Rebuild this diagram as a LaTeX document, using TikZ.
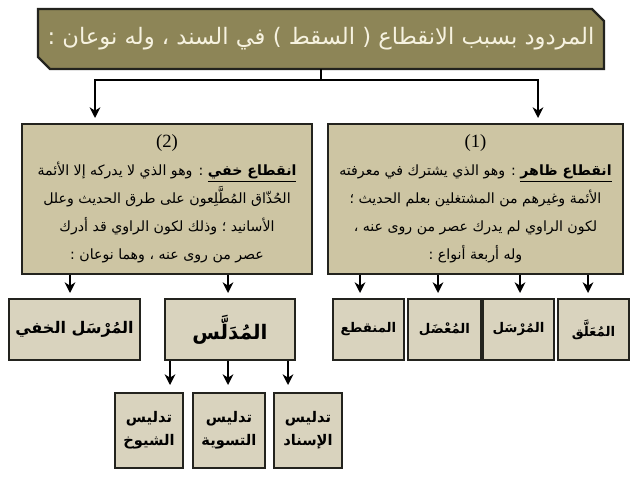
\documentclass[tikz,border=0pt]{standalone}
\usepackage{fontspec}
\setmainfont{Liberation Serif}
\newfontfamily\arabicfont[Script=Arabic]{DejaVu Sans}
\TeXXeTstate=1
\usetikzlibrary{arrows.meta}
\newcommand\artxt[1]{{\arabicfont\beginR #1\endR}}
\definecolor{topfill}{RGB}{141,133,87}
\definecolor{toptextc}{RGB}{246,242,224}
\definecolor{midfill}{RGB}{205,197,163}
\definecolor{botfill}{RGB}{217,211,190}
\definecolor{edge}{RGB}{35,35,30}
\begin{document}
\begin{tikzpicture}[x=0.75pt,y=-0.75pt,
  topshape/.style={fill=topfill,draw=edge,line width=1.6pt},
  toptext/.style={inner sep=0pt,text=toptextc,font=\fontsize{17}{20}\selectfont},
  midbox/.style={draw=edge,fill=midfill,line width=1pt,inner sep=0pt,align=center,font=\fontsize{10.6}{21}\selectfont},
  botbox/.style={draw=edge,fill=botfill,line width=1pt,inner sep=0pt,align=center,font=\fontsize{12}{16}\selectfont\bfseries},
  narrow/.style={font=\fontsize{10}{16}\selectfont\bfseries},
  subbox/.style={draw=edge,fill=botfill,line width=1pt,inner sep=0pt,align=center,font=\fontsize{11}{17}\selectfont\bfseries},
  conn/.style={draw=black,line width=1.5pt},
  arr/.style={-{Stealth[length=8pt,width=8pt,inset=2.5pt]}}
]
\useasboundingbox (0,0) rectangle (638,479);

% top box
\draw[topshape] (38,9) -- (592,9) -- (604,21) -- (604,69) -- (50,69) -- (38,57) -- cycle;
\node[toptext,minimum width=424.5pt,minimum height=45pt] (top) at (321,39)
  {\artxt{المردود بسبب الانقطاع ( السقط ) في السند ، وله نوعان :}};

% middle boxes
\node[midbox,minimum width=221.25pt,minimum height=112.5pt] (zahir) at (475.5,199) {%
  {\fontsize{14}{21}\selectfont (1)}\\
  \artxt{\underline{\beginR\textbf{انقطاع ظاهر}\endR} : وهو الذي يشترك في معرفته}\\
  \artxt{الأئمة وغيرهم من المشتغلين بعلم الحديث ؛}\\
  \artxt{لكون الراوي لم يدرك عصر من روى عنه ،}\\
  \artxt{وله أربعة أنواع :}};

\node[midbox,minimum width=217.5pt,minimum height=112.5pt] (khafi) at (167,199) {%
  {\fontsize{14}{21}\selectfont (2)}\\
  \artxt{\underline{\beginR\textbf{انقطاع خفي}\endR} : وهو الذي لا يدركه إلا الأئمة}\\
  \artxt{الحُذّاق المُطَّلِعون على طرق الحديث وعلل}\\
  \artxt{الأسانيد ؛ وذلك لكون الراوي قد أدرك}\\
  \artxt{عصر من روى عنه ، وهما نوعان :}};

% bottom boxes
\node[botbox,minimum width=98.25pt,minimum height=45.75pt] (mkhafi) at (74.5,329.5) {\artxt{المُرْسَل الخفي}};
\node[botbox,minimum width=97.5pt,minimum height=45.75pt,font=\fontsize{15}{18}\selectfont\bfseries] (mudallas) at (230,329.5) {\artxt{المُدَلَّس}};
\node[botbox,narrow,minimum width=53.25pt,minimum height=45.75pt] (munqati) at (368.5,329.5) {\artxt{المنقطع}};
\node[botbox,narrow,minimum width=54.75pt,minimum height=45.75pt] (muadal) at (444.5,329.5) {\artxt{المُعْضَل}};
\node[botbox,narrow,minimum width=53.25pt,minimum height=45.75pt] (mursal) at (518.5,329.5) {\artxt{المُرْسَل}};
\node[botbox,narrow,minimum width=53.25pt,minimum height=45.75pt] (muallaq) at (593.5,329.5) {\artxt{المُعَلَّق}};

% third row
\node[subbox,minimum width=51pt,minimum height=56.25pt] (shuyukh) at (149,430.5) {\artxt{تدليس}\\\artxt{الشيوخ}};
\node[subbox,minimum width=54pt,minimum height=56.25pt] (taswiya) at (229,430.5) {\artxt{تدليس}\\\artxt{التسوية}};
\node[subbox,minimum width=51pt,minimum height=56.25pt] (isnad) at (308,430.5) {\artxt{تدليس}\\\artxt{الإسناد}};

% connectors from top
\coordinate (hub) at (321,80);
\coordinate (tZ) at (538,118);
\coordinate (tK) at (95,118);
\draw[conn] (top.south) -- (hub);
\draw[conn,arr] (hub) -| (tZ);
\draw[conn,arr] (hub) -| (tK);

% connectors from zahir
\coordinate (a1) at (360,293);
\coordinate (a2) at (438,293);
\coordinate (a3) at (520,293);
\coordinate (a4) at (588,293);
\foreach \c in {a1,a2,a3,a4} \draw[conn,arr] (zahir.south -| \c) -- (\c);

% connectors from khafi
\coordinate (b1) at (70,293);
\coordinate (b2) at (228,293);
\foreach \c in {b1,b2} \draw[conn,arr] (khafi.south -| \c) -- (\c);

% connectors from mudallas
\coordinate (c1) at (170,385);
\coordinate (c2) at (228,385);
\coordinate (c3) at (288,385);
\foreach \c in {c1,c2,c3} \draw[conn,arr] (mudallas.south -| \c) -- (\c);
\end{tikzpicture}
\end{document}
